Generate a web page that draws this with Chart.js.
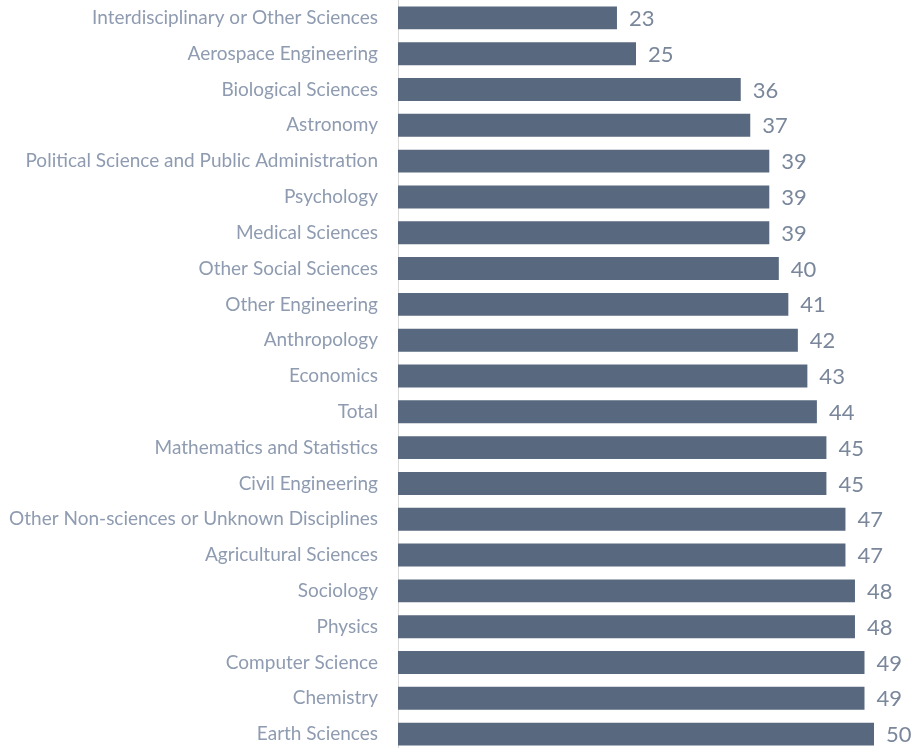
<!DOCTYPE html>
<html><head><meta charset="utf-8">
<script src="https://cdn.jsdelivr.net/npm/chart.js@4/dist/chart.umd.min.js"></script>
<style>
html,body{margin:0;padding:0;background:#fff;overflow:hidden;}
#wrap{position:absolute;left:0;top:0;width:914px;height:752px;}
</style></head><body>
<div id="wrap"><canvas id="c"></canvas></div>
<script>
const categories = ["Interdisciplinary or Other Sciences","Aerospace Engineering","Biological Sciences","Astronomy","Political Science and Public Administration","Psychology","Medical Sciences","Other Social Sciences","Other Engineering","Anthropology","Economics","Total","Mathematics and Statistics","Civil Engineering","Other Non-sciences or Unknown Disciplines","Agricultural Sciences","Sociology","Physics","Computer Science","Chemistry","Earth Sciences"];
const values = [23,25,36,37,39,39,39,40,41,42,43,44,45,45,47,47,48,48,49,49,50];

const valueLabels = {
  id:'valueLabels',
  afterDatasetsDraw(chart){
    const ctx = chart.ctx;
    const meta = chart.getDatasetMeta(0);
    ctx.save();
    ctx.font = '22px Lato';
    ctx.fillStyle = '#7a879b';
    ctx.textAlign = 'left';
    ctx.textBaseline = 'middle';
    meta.data.forEach((bar,i)=>{
      ctx.fillText(String(values[i]), bar.x + 12, bar.y + 1);
    });
    ctx.restore();
  }
};

new Chart(document.getElementById('c'),{
  type:'bar',
  data:{labels:categories,datasets:[{data:values,backgroundColor:'#58687e',categoryPercentage:1,barPercentage:0.64}]},
  options:{
    indexAxis:'y',responsive:true,maintainAspectRatio:false,animation:false,
    layout:{padding:0},
    plugins:{legend:{display:false},tooltip:{enabled:false}},
    scales:{
      x:{min:0,max:54.2,display:false,grid:{display:false}},
      y:{
        grid:{display:false,drawTicks:false},
        border:{display:true,color:'#d9d9d9',width:1},
        ticks:{color:'#8e9bb0',font:{family:'Lato',size:19},padding:20},
        afterFit(s){s.width=398;s.paddingTop=0;s.paddingBottom=0;}
      }
    }
  },
  plugins:[valueLabels]
});
</script>
</body></html>
